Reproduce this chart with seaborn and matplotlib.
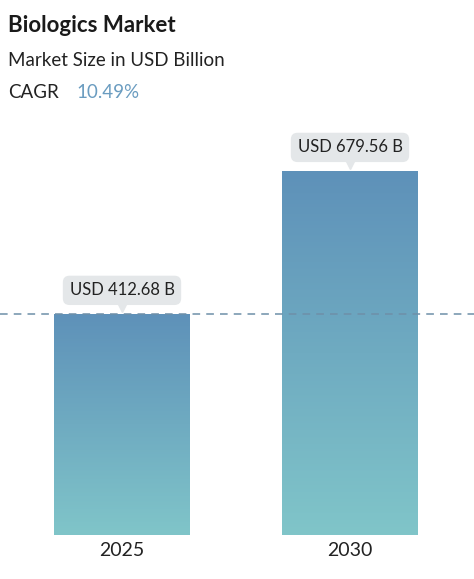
import matplotlib
matplotlib.use("Agg")
import matplotlib.pyplot as plt
import seaborn as sns
import numpy as np
import pandas as pd
from matplotlib.colors import LinearSegmentedColormap

years = ["2025", "2030"]
values = [412.68, 679.56]
labels = ["USD 412.68 B", "USD 679.56 B"]
cagr = "10.49%"

sns.set_theme(style="white")
plt.rcParams['font.family'] = ['Lato', 'DejaVu Sans']

fig = plt.figure(figsize=(4.74, 5.79), dpi=100)
ax = fig.add_axes([0, 1 - 535/579, 1, 405/579])
df = pd.DataFrame({"year": years, "value": values})
sns.barplot(data=df, x="year", y="value", ax=ax, width=136/228, color="#6fa8c0", saturation=1)
ax.set_xlim(-122/228, (474-122)/228)
ax.set_ylim(0, 405/0.5356)

cmap = LinearSegmentedColormap.from_list("g", ["#80c5c9", "#5e91b9"])
grad = np.linspace(0, 1, 256).reshape(-1, 1)
for p in ax.patches:
    x0, w, h = p.get_x(), p.get_width(), p.get_height()
    im = ax.imshow(grad, cmap=cmap, aspect="auto", extent=[x0, x0 + w, 0, h], origin="lower", zorder=2)
    im.set_clip_path(p)
    p.set_facecolor("none")
    p.set_edgecolor("none")

ax.axhline(values[0], color="#6e8fa8", ls=(0, (5, 4)), lw=1.1, zorder=3)

for i, (v, t) in enumerate(zip(values, labels)):
    ax.annotate(t, (i, v), xytext=(0, 17), textcoords="offset points", ha="center", va="center",
                fontsize=12, color="#222222",
                bbox=dict(boxstyle="round,pad=0.4,rounding_size=0.4", fc="#e4e7e9", ec="none"), zorder=4)
    ax.plot([i], [v + 13], marker="v", ms=7, color="#e4e7e9", zorder=4, clip_on=False)

ax.set_xlabel(""); ax.set_ylabel("")
ax.set_yticks([])
ax.tick_params(axis="x", length=0, labelsize=14, colors="#222222", pad=5)
for s in ax.spines.values():
    s.set_visible(False)
ax.patch.set_alpha(0)

fig.text(8/474, 1 - 25/579, "Biologics Market", fontsize=16, fontweight="bold", color="#1a1a1a", va="center")
fig.text(8/474, 1 - 61/579, "Market Size in USD Billion", fontsize=13.5, color="#222222", va="center")
fig.text(8/474, 1 - 93/579, "CAGR", fontsize=13.5, color="#222222", va="center")
fig.text(76/474, 1 - 93/579, cagr, fontsize=13.5, color="#6a9cc0", va="center")

fig.savefig("out.png", dpi=100)
